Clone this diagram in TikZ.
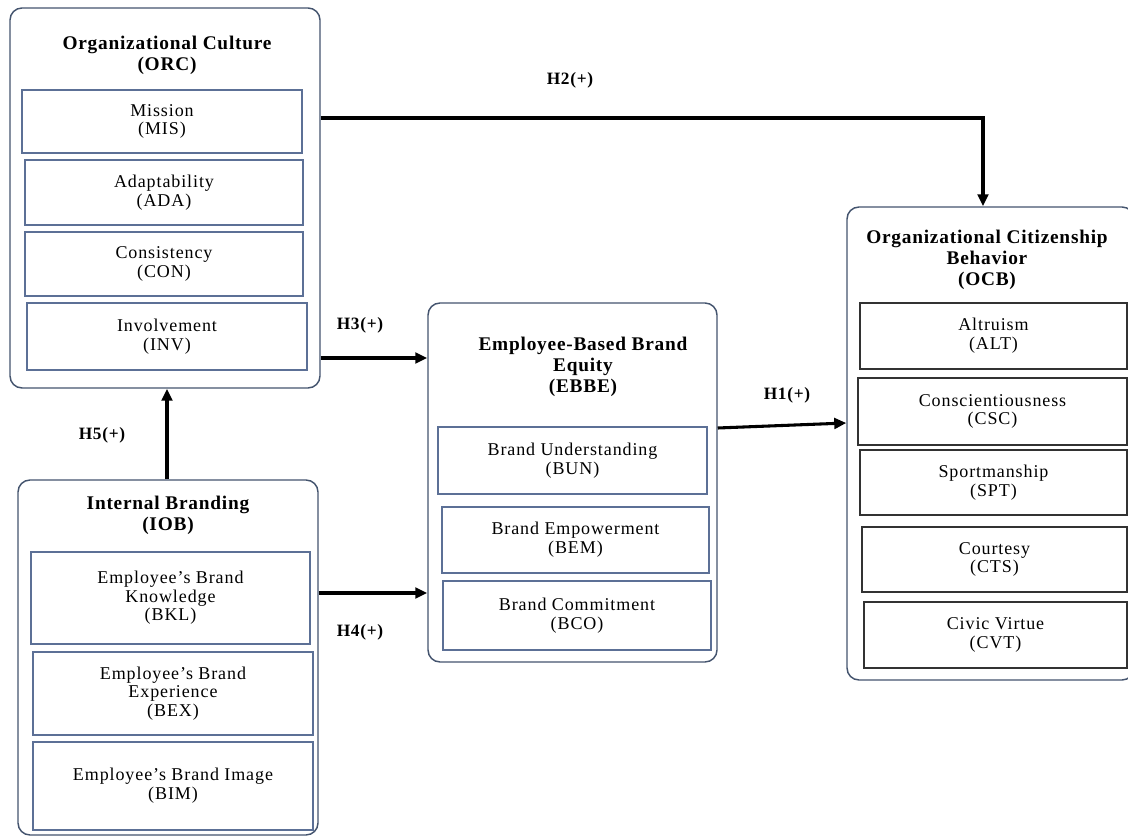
\documentclass[tikz,border=0pt]{standalone}
\usepackage{fontspec}
\setmainfont{Liberation Serif}
\newfontfamily\spc[LetterSpace=5,Ligatures=TeX]{Liberation Serif}
\newfontfamily\spt[LetterSpace=4,Ligatures=TeX]{Liberation Serif}
\usetikzlibrary{arrows.meta,calc}
\definecolor{outerc}{RGB}{68,84,110}
\definecolor{innerc}{RGB}{92,112,150}
\definecolor{ocbin}{RGB}{50,50,50}
\newcommand\bx[7]{\node[#7, minimum width={(#4-#2)*0.75pt}, minimum height={(#5-#3)*0.75pt}] (#1) at ({(#2+#4)/2},{(#3+#5)/2}) {#6};}
\tikzset{
  outerbox/.style={draw=outerc, line width=1.1pt, rounded corners=9pt, inner sep=0pt, fill=white},
  inbox/.style={draw=innerc, line width=1.1pt, inner sep=0pt, align=center, font=\spc\fontsize{13.5}{14}\selectfont},
  ocbbox/.style={draw=ocbin, line width=1.1pt, inner sep=0pt, align=center, font=\spc\fontsize{13.5}{14}\selectfont},
  ttl/.style={align=center, font=\spt\fontsize{14.5}{15.7}\selectfont\bfseries, inner sep=0pt},
  hlab/.style={font=\spt\fontsize{13}{14}\selectfont\bfseries, inner sep=0pt},
  arr/.style={line width=2.3pt, -{Triangle[length=9pt,width=8pt]}}
}
\begin{document}
\begin{tikzpicture}[x=0.75pt,y=-0.75pt]
\useasboundingbox (0,0) rectangle (1128,837);
% outer boxes
\bx{orc}{10}{8}{320}{388}{}{outerbox}
\bx{iob}{18}{480}{318}{835}{}{outerbox}
\bx{ebbe}{428}{303}{717}{662}{}{outerbox}
\bx{ocb}{847}{207}{1134}{680}{}{outerbox}
% titles
\node[ttl] (orct) at (167,55) {Organizational Culture\\(ORC)};
\node[ttl] (iobt) at (168,515) {Internal Branding\\(IOB)};
\node[ttl] (ebbet) at (583,367) {Employee-Based Brand\\Equity\\(EBBE)};
\node[ttl] (ocbt) at (987,260) {Organizational Citizenship\\Behavior\\(OCB)};
% ORC inner
\bx{mis}{22}{90}{302}{153}{Mission\\(MIS)}{inbox}
\bx{ada}{25}{160}{303}{225}{Adaptability\\(ADA)}{inbox}
\bx{con}{25}{232}{303}{296}{Consistency\\(CON)}{inbox}
\bx{inv}{27}{303}{307}{370}{Involvement\\(INV)}{inbox}
% IOB inner
\bx{bkl}{31}{552}{310}{644}{Employee’s Brand\\Knowledge\\(BKL)}{inbox}
\bx{bex}{33}{652}{313}{735}{Employee’s Brand\\Experience\\(BEX)}{inbox}
\bx{bim}{33}{742}{313}{830}{Employee’s Brand Image\\(BIM)}{inbox}
% EBBE inner
\bx{bun}{438}{427}{707}{494}{Brand Understanding\\(BUN)}{inbox}
\bx{bem}{442}{507}{709}{573}{Brand Empowerment\\(BEM)}{inbox}
\bx{bco}{443}{581}{711}{650}{Brand Commitment\\(BCO)}{inbox}
% OCB inner
\bx{alt}{860}{303}{1127}{369}{Altruism\\(ALT)}{ocbbox}
\bx{csc}{858}{378}{1127}{445}{Conscientiousness\\(CSC)}{ocbbox}
\bx{spt}{860}{450}{1127}{515}{Sportmanship\\(SPT)}{ocbbox}
\bx{cts}{862}{527}{1127}{592}{Courtesy\\(CTS)}{ocbbox}
\bx{cvt}{864}{602}{1127}{668}{Civic Virtue\\(CVT)}{ocbbox}
% connectors
\coordinate (h2s) at (orc.east |- 0,118);
\coordinate (h2c) at (983,118);
\draw[arr] (h2s) -- (h2c) -- (h2c |- ocb.north);
\draw[arr] (orc.east |- 0,358) -- (ebbe.west |- 0,358);
\draw[arr] (ebbe.east |- 0,428) -- (ocb.west |- 0,423);
\draw[arr] (iob.east |- 0,593) -- (ebbe.west |- 0,593);
\draw[arr] (iob.north -| 167,0) -- (orc.south -| 167,0);
% labels
\node[hlab] (h2) at (570,80) {H2(+)};
\node[hlab] (h3) at (360,325) {H3(+)};
\node[hlab] (h1) at (787,395) {H1(+)};
\node[hlab] (h4) at (360,632) {H4(+)};
\node[hlab] (h5) at (102,435) {H5(+)};
\end{tikzpicture}
\end{document}
